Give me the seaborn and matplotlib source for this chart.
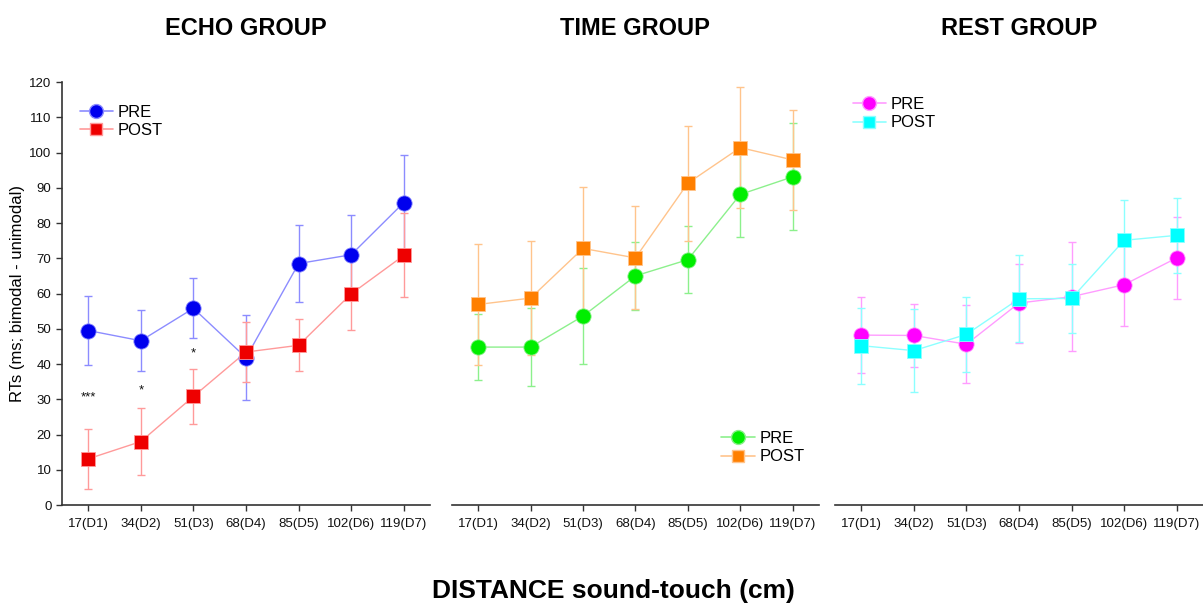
import numpy as np
import pandas as pd
import matplotlib
matplotlib.use("Agg")
import matplotlib.pyplot as plt
from matplotlib.lines import Line2D
import seaborn as sns

# ----------------------------
# DATA (means and SEM)
# ----------------------------
distances = ["17(D1)", "34(D2)", "51(D3)", "68(D4)", "85(D5)", "102(D6)", "119(D7)"]

echo_pre = [49.5, 46.6, 55.8, 41.8, 68.5, 71.0, 85.8]
echo_pre_sem = [9.9, 8.7, 8.5, 12.0, 11.0, 11.2, 13.5]
echo_post = [13.1, 18.0, 30.8, 43.4, 45.3, 59.9, 70.8]
echo_post_sem = [8.6, 9.4, 7.9, 8.4, 7.4, 10.3, 11.9]

time_pre = [44.8, 44.8, 53.6, 65.0, 69.6, 88.1, 93.1]
time_pre_sem = [9.3, 11.0, 13.5, 9.7, 9.5, 12.0, 15.2]
time_post = [56.9, 58.7, 72.8, 70.1, 91.3, 101.4, 97.9]
time_post_sem = [17.1, 16.2, 17.5, 14.6, 16.3, 17.2, 14.3]

rest_pre = [48.2, 48.1, 45.6, 57.3, 59.1, 62.5, 70.1]
rest_pre_sem = [10.7, 9.0, 11.1, 11.2, 15.5, 11.8, 11.7]
rest_post = [45.2, 43.8, 48.4, 58.5, 58.6, 75.1, 76.5]
rest_post_sem = [10.8, 11.7, 10.6, 12.3, 9.9, 11.5, 10.6]

# significance marks in the echo group
sig_labels = ["***", "*", "*"]
sig_pos = [0, 1, 2]
sig_y = [30.5, 32.5, 43.0]

groups = [
    ("ECHO GROUP", echo_pre, echo_pre_sem, echo_post, echo_post_sem,
     ("#0000ee", "#8c8cff"), ("#ee0000", "#ff9a9a")),
    ("TIME GROUP", time_pre, time_pre_sem, time_post, time_post_sem,
     ("#00ee00", "#8cf08c"), ("#ff7f00", "#ffc48c")),
    ("REST GROUP", rest_pre, rest_pre_sem, rest_post, rest_post_sem,
     ("#ff00ff", "#ff9cff"), ("#00ffff", "#8cffff")),
]

sns.set_style("ticks")
plt.rcParams["font.family"] = ["Liberation Sans", "DejaVu Sans"]
plt.rcParams["text.color"] = "black"

fig = plt.figure(figsize=(12.03, 6.08), dpi=100)
positions = [
    [0.0515, 0.1694, 0.306, 0.6957],
    [0.3757, 0.1694, 0.305, 0.6957],
    [0.6941, 0.1694, 0.3059, 0.6957],
]
legend_anchor = [(0.03, 0.962), (0.98, 0.08), (0.03, 0.98)]

for i, (title, pre, pre_sem, post, post_sem, pre_c, post_c) in enumerate(groups):
    ax = fig.add_axes(positions[i])
    df = pd.DataFrame({
        "pos": list(range(7)) * 2,
        "rt": pre + post,
        "sem": pre_sem + post_sem,
        "session": ["PRE"] * 7 + ["POST"] * 7,
    })

    for sess, col, mk, ms in [("PRE", pre_c, "o", 11), ("POST", post_c, "s", 10)]:
        d = df[df["session"] == sess]
        ax.errorbar(d["pos"], d["rt"], yerr=d["sem"], fmt="none",
                    ecolor=col[1], elinewidth=1, capsize=3, capthick=1, zorder=1)
        sns.lineplot(data=d, x="pos", y="rt", color=col[1], lw=1,
                     ax=ax, zorder=2, legend=False)
        ax.plot(d["pos"], d["rt"], ls="none", marker=mk, ms=ms,
                mfc=col[0], mec=col[1], mew=0.6, zorder=3)

    ax.set_xlim(-0.5, 6.5)
    ax.set_ylim(0, 120)
    ax.set_xticks(range(7))
    ax.set_xticklabels(distances, fontsize=9.5, color="#111111")
    ax.set_xlabel("")
    ax.set_ylabel("")
    ax.tick_params(axis="x", length=4, width=1, color="#333333", pad=5)
    for s in ["top", "right"]:
        ax.spines[s].set_visible(False)
    ax.spines["bottom"].set_color("#333333")
    ax.spines["bottom"].set_linewidth(1.2)

    if i == 0:
        ax.set_yticks(range(0, 121, 10))
        ax.tick_params(axis="y", length=4, width=1, color="#333333",
                       labelsize=9.5, labelcolor="#111111")
        ax.spines["left"].set_color("#333333")
        ax.spines["left"].set_linewidth(1.2)
        ax.set_ylabel("RTs (ms; bimodal - unimodal)", fontsize=12, labelpad=3,
                      color="black")
        for lab, p, yv in zip(sig_labels, sig_pos, sig_y):
            ax.text(p, yv, lab, ha="center", va="center", fontsize=9.5, color="#111111")
    else:
        ax.spines["left"].set_visible(False)
        ax.set_yticks([])

    ax.set_title(title, fontsize=17, fontweight="bold", pad=34, color="black")

    handles = [
        Line2D([], [], color=pre_c[1], lw=1.2, marker="o", ms=10,
               mfc=pre_c[0], mec=pre_c[1]),
        Line2D([], [], color=post_c[1], lw=1.2, marker="s", ms=9,
               mfc=post_c[0], mec=post_c[1]),
    ]
    loc = "lower right" if i == 1 else "upper left"
    ax.legend(handles, ["PRE", "POST"], loc=loc, bbox_to_anchor=legend_anchor[i],
              frameon=False, fontsize=12, handlelength=2.0,
              handletextpad=0.3, labelspacing=0.2, borderaxespad=0)

fig.text(0.51, 0.028, "DISTANCE sound-touch (cm)", ha="center", va="center",
         fontsize=19, fontweight="bold", color="black")

fig.savefig("out.png", dpi=100)
